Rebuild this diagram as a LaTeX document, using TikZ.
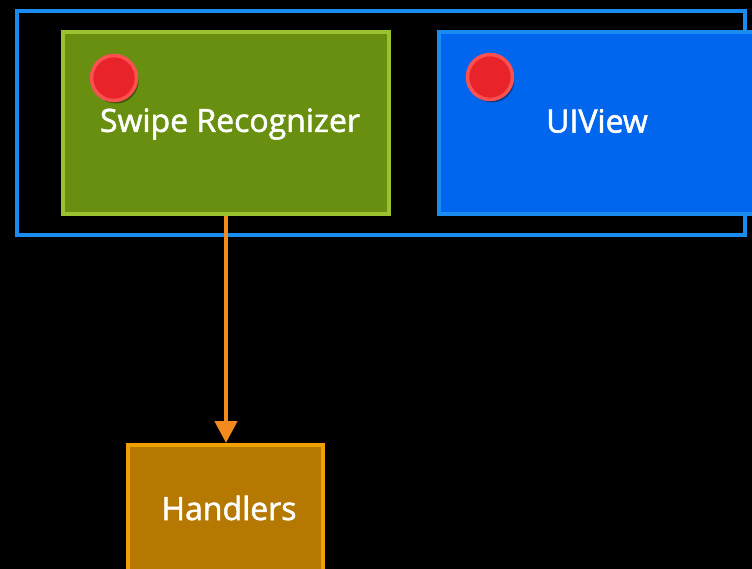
\documentclass[tikz,border=0pt]{standalone}
\usepackage{fontspec}
\setmainfont{Open Sans}
\newfontfamily\labelfont[FakeBold=1.6]{Open Sans}
\usetikzlibrary{shadows,arrows.meta}
\definecolor{framecol}{RGB}{26,140,240}
\definecolor{greenfill}{RGB}{104,143,16}
\definecolor{greenline}{RGB}{154,194,46}
\definecolor{bluefill}{RGB}{0,102,238}
\definecolor{redfill}{RGB}{232,36,42}
\definecolor{redline}{RGB}{255,80,80}
\definecolor{orangefill}{RGB}{181,120,0}
\definecolor{orangeline}{RGB}{240,160,0}
\definecolor{arrowcol}{RGB}{242,138,30}
\tikzset{
  panel/.style={line width=4pt, inner sep=0pt},
  lbl/.style={text=white, font=\labelfont\fontsize{32}{32}\selectfont},
  dot/.style={circle, fill=redfill, draw=redline, line width=3.5pt,
    minimum size=45pt, inner sep=0pt,
    drop shadow={shadow xshift=2pt, shadow yshift=-3pt, opacity=0.4, fill=black}},
}
\begin{document}
\begin{tikzpicture}[x=1pt,y=-1pt]
  \fill[black] (0,0) rectangle (752,569);
  \useasboundingbox (0,0) rectangle (752,569);
  % enclosing frame
  \draw[framecol, line width=4pt] (17,11) rectangle (745,235);
  % recognizer box
  \draw[panel, fill=greenfill, draw=greenline] (63,32) rectangle (389,214);
  \coordinate (recb) at (226,216);
  \node[dot] (dotA) at (114,78) {};
  \node[lbl] (swipe) at (230,124) {Swipe Recognizer};
  % view box
  \draw[panel, fill=bluefill, draw=framecol] (439,32) rectangle (760,214);
  \node[dot] (dotB) at (490,77) {};
  \node[lbl] (view) at (597,121) {UIView};
  % handlers box
  \draw[panel, fill=orangefill, draw=orangeline] (128,445) rectangle (323,580);
  \coordinate (hand) at (226,443);
  \node[lbl] (handlers) at (229,508) {Handlers};
  % connector
  \draw[arrowcol, line width=4.5pt, -{Triangle[length=22pt,width=22pt]}] (recb) -- (hand);
\end{tikzpicture}
\end{document}
